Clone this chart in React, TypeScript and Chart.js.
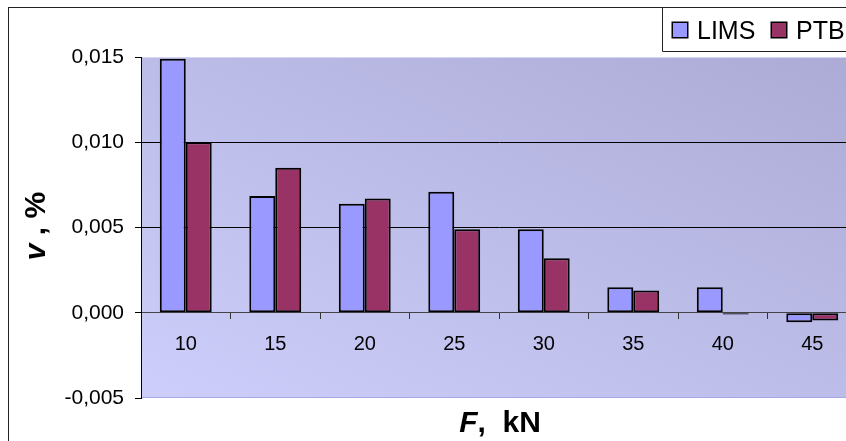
import React, { useEffect, useRef } from "react";
import { Chart, registerables } from "chart.js";

Chart.register(...registerables);

const categories = ["10", "15", "20", "25", "30", "35", "40", "45"];
const limsValues = [0.0149, 0.00685, 0.0064, 0.0071, 0.0049, 0.0015, 0.0015, -0.00055];
const ptbValues = [0.01, 0.0085, 0.0067, 0.0049, 0.0032, 0.0013, -0.0001, -0.00045];
const yTicks = [-0.005, 0, 0.005, 0.01, 0.015];
const seriesNames = ["LIMS", "PTB"];
const seriesColors = ["#9999FF", "#993366"];
const xTitleParts = [
  { text: "F", italic: true },
  { text: ",  kN", italic: false },
];
const yTitleParts = [
  { text: "v", italic: true },
  { text: " , %", italic: false },
];

const FONT = "Arial, 'Liberation Sans', sans-serif";

function fmt(v: number): string {
  const s = Math.abs(v) < 1e-12 ? "0.000" : v.toFixed(3);
  return s.replace(".", ",");
}

function partsWidth(ctx: CanvasRenderingContext2D, parts: { text: string; italic: boolean }[], size: number) {
  let w = 0;
  for (const p of parts) {
    ctx.font = `${p.italic ? "italic " : ""}bold ${size}px ${FONT}`;
    w += ctx.measureText(p.text).width;
  }
  return w;
}

function drawParts(ctx: CanvasRenderingContext2D, parts: { text: string; italic: boolean }[], size: number, x: number, y: number) {
  let cx = x;
  for (const p of parts) {
    ctx.font = `${p.italic ? "italic " : ""}bold ${size}px ${FONT}`;
    ctx.fillText(p.text, cx, y);
    cx += ctx.measureText(p.text).width;
  }
}

const decorPlugin = {
  id: "decor",
  beforeDraw(chart: any) {
    const { ctx, chartArea } = chart;
    const { left, right, top, bottom } = chartArea;
    const W = right - left;
    const H = bottom - top;
    const k = (2 * W * H) / (W * W + H * H);
    ctx.save();
    const g = ctx.createLinearGradient(left, bottom, left + H * k, bottom - W * k);
    g.addColorStop(0, "#CECEFC");
    g.addColorStop(1, "#ABABD5");
    ctx.fillStyle = g;
    ctx.fillRect(left, top, W, H);
    ctx.strokeStyle = "#D4D4F4";
    ctx.lineWidth = 1;
    ctx.beginPath();
    ctx.moveTo(left, top + 0.5);
    ctx.lineTo(right, top + 0.5);
    ctx.stroke();
    ctx.strokeStyle = "#A6A6E6";
    ctx.beginPath();
    ctx.moveTo(left, bottom - 0.5);
    ctx.lineTo(right, bottom - 0.5);
    ctx.stroke();
    ctx.restore();
  },
  afterDraw(chart: any) {
    const { ctx } = chart;
    ctx.save();
    ctx.fillStyle = "#000";
    ctx.textAlign = "left";
    ctx.textBaseline = "alphabetic";
    // x title
    const xs = 30;
    const xw = partsWidth(ctx, xTitleParts, xs);
    const xc = 491;
    drawParts(ctx, xTitleParts, xs, xc - xw / 2, 424);
    // y title
    const yw = partsWidth(ctx, yTitleParts, xs);
    ctx.save();
    ctx.translate(36, 218);
    ctx.rotate(-Math.PI / 2);
    drawParts(ctx, yTitleParts, xs, -yw / 2, 0);
    ctx.restore();

    // legend
    const lx = 653;
    const lb = 43;
    ctx.fillStyle = "#fff";
    ctx.fillRect(lx, 0, chart.width - lx, lb);
    ctx.strokeStyle = "#222";
    ctx.lineWidth = 1;
    ctx.beginPath();
    ctx.moveTo(lx + 0.5, 0);
    ctx.lineTo(lx + 0.5, lb + 0.5);
    ctx.lineTo(chart.width, lb + 0.5);
    ctx.stroke();
    const sqX = [663, 762];
    const txX = [688, 787];
    ctx.font = `25px ${FONT}`;
    for (let i = 0; i < seriesNames.length; i++) {
      ctx.fillStyle = seriesColors[i];
      ctx.fillRect(sqX[i], 14, 16, 16);
      ctx.strokeStyle = "#000";
      ctx.lineWidth = 1.5;
      ctx.strokeRect(sqX[i] + 0.25, 14.25, 15.5, 15.5);
      ctx.fillStyle = "#000";
      ctx.fillText(seriesNames[i], txX[i], 31);
    }
    ctx.restore();
  },
};

export default function App() {
  const ref = useRef<HTMLCanvasElement | null>(null);
  useEffect(() => {
    if (!ref.current) return;
    const near = (a: number, b: number) => Math.abs(a - b) < 1e-9;
    const chart = new Chart(ref.current, {
      type: "bar",
      data: {
        labels: categories,
        datasets: [
          {
            label: seriesNames[0],
            data: limsValues,
            backgroundColor: seriesColors[0],
            borderColor: "#000",
            borderWidth: 2,
            borderSkipped: false,
            barPercentage: 1,
            categoryPercentage: 0.58,
          },
          {
            label: seriesNames[1],
            data: ptbValues,
            backgroundColor: seriesColors[1],
            borderColor: "#000",
            borderWidth: 2,
            borderSkipped: false,
            barPercentage: 1,
            categoryPercentage: 0.58,
          },
        ],
      },
      options: {
        animation: false,
        responsive: false,
        devicePixelRatio: 1,
        layout: { padding: { left: 0, top: 49, right: 32, bottom: 60 } },
        plugins: {
          legend: { display: false },
          tooltip: { enabled: false },
          title: { display: false },
        },
        scales: {
          x: {
            position: { y: 0 } as any,
            offset: true,
            grid: {
              display: true,
              drawOnChartArea: false,
              drawTicks: true,
              tickLength: 6,
              offset: true,
              color: "#333",
              tickColor: "#333",
            },
            border: { display: true, color: "#444", width: 1 },
            ticks: {
              padding: 14,
              font: { family: FONT, size: 20 },
              color: "#000",
              maxRotation: 0,
              autoSkip: false,
            },
            afterFit: (s: any) => {
              s.height = 0;
            },
          },
          y: {
            min: yTicks[0],
            max: yTicks[yTicks.length - 1],
            afterBuildTicks: (s: any) => {
              s.ticks = yTicks.map((v) => ({ value: v }));
            },
            afterFit: (s: any) => {
              s.width = 132;
            },
            grid: {
              color: (c: any) => {
                const v = c.tick ? c.tick.value : NaN;
                if (near(v, 0.005) || near(v, 0.01)) return "#000";
                return "rgba(0,0,0,0)";
              },
              tickColor: "#000",
              tickLength: 6,
              lineWidth: 1,
            },
            border: { display: true, color: "#000", width: 1 },
            ticks: {
              padding: 11,
              font: { family: FONT, size: 21 },
              color: "#000",
              callback: (v: any) => fmt(Number(v)),
            },
          },
        },
      },
      plugins: [decorPlugin],
    });
    return () => chart.destroy();
  }, []);

  return (
    <div
      style={{
        position: "fixed",
        left: 0,
        top: 0,
        width: 846,
        height: 441,
        overflow: "hidden",
        background: "#fff",
      }}
    >
      <div
        style={{
          position: "absolute",
          left: 8,
          top: 7,
          border: "1px solid #222",
          background: "#fff",
        }}
      >
        <canvas ref={ref} width={880} height={450} style={{ display: "block" }} />
      </div>
    </div>
  );
}
